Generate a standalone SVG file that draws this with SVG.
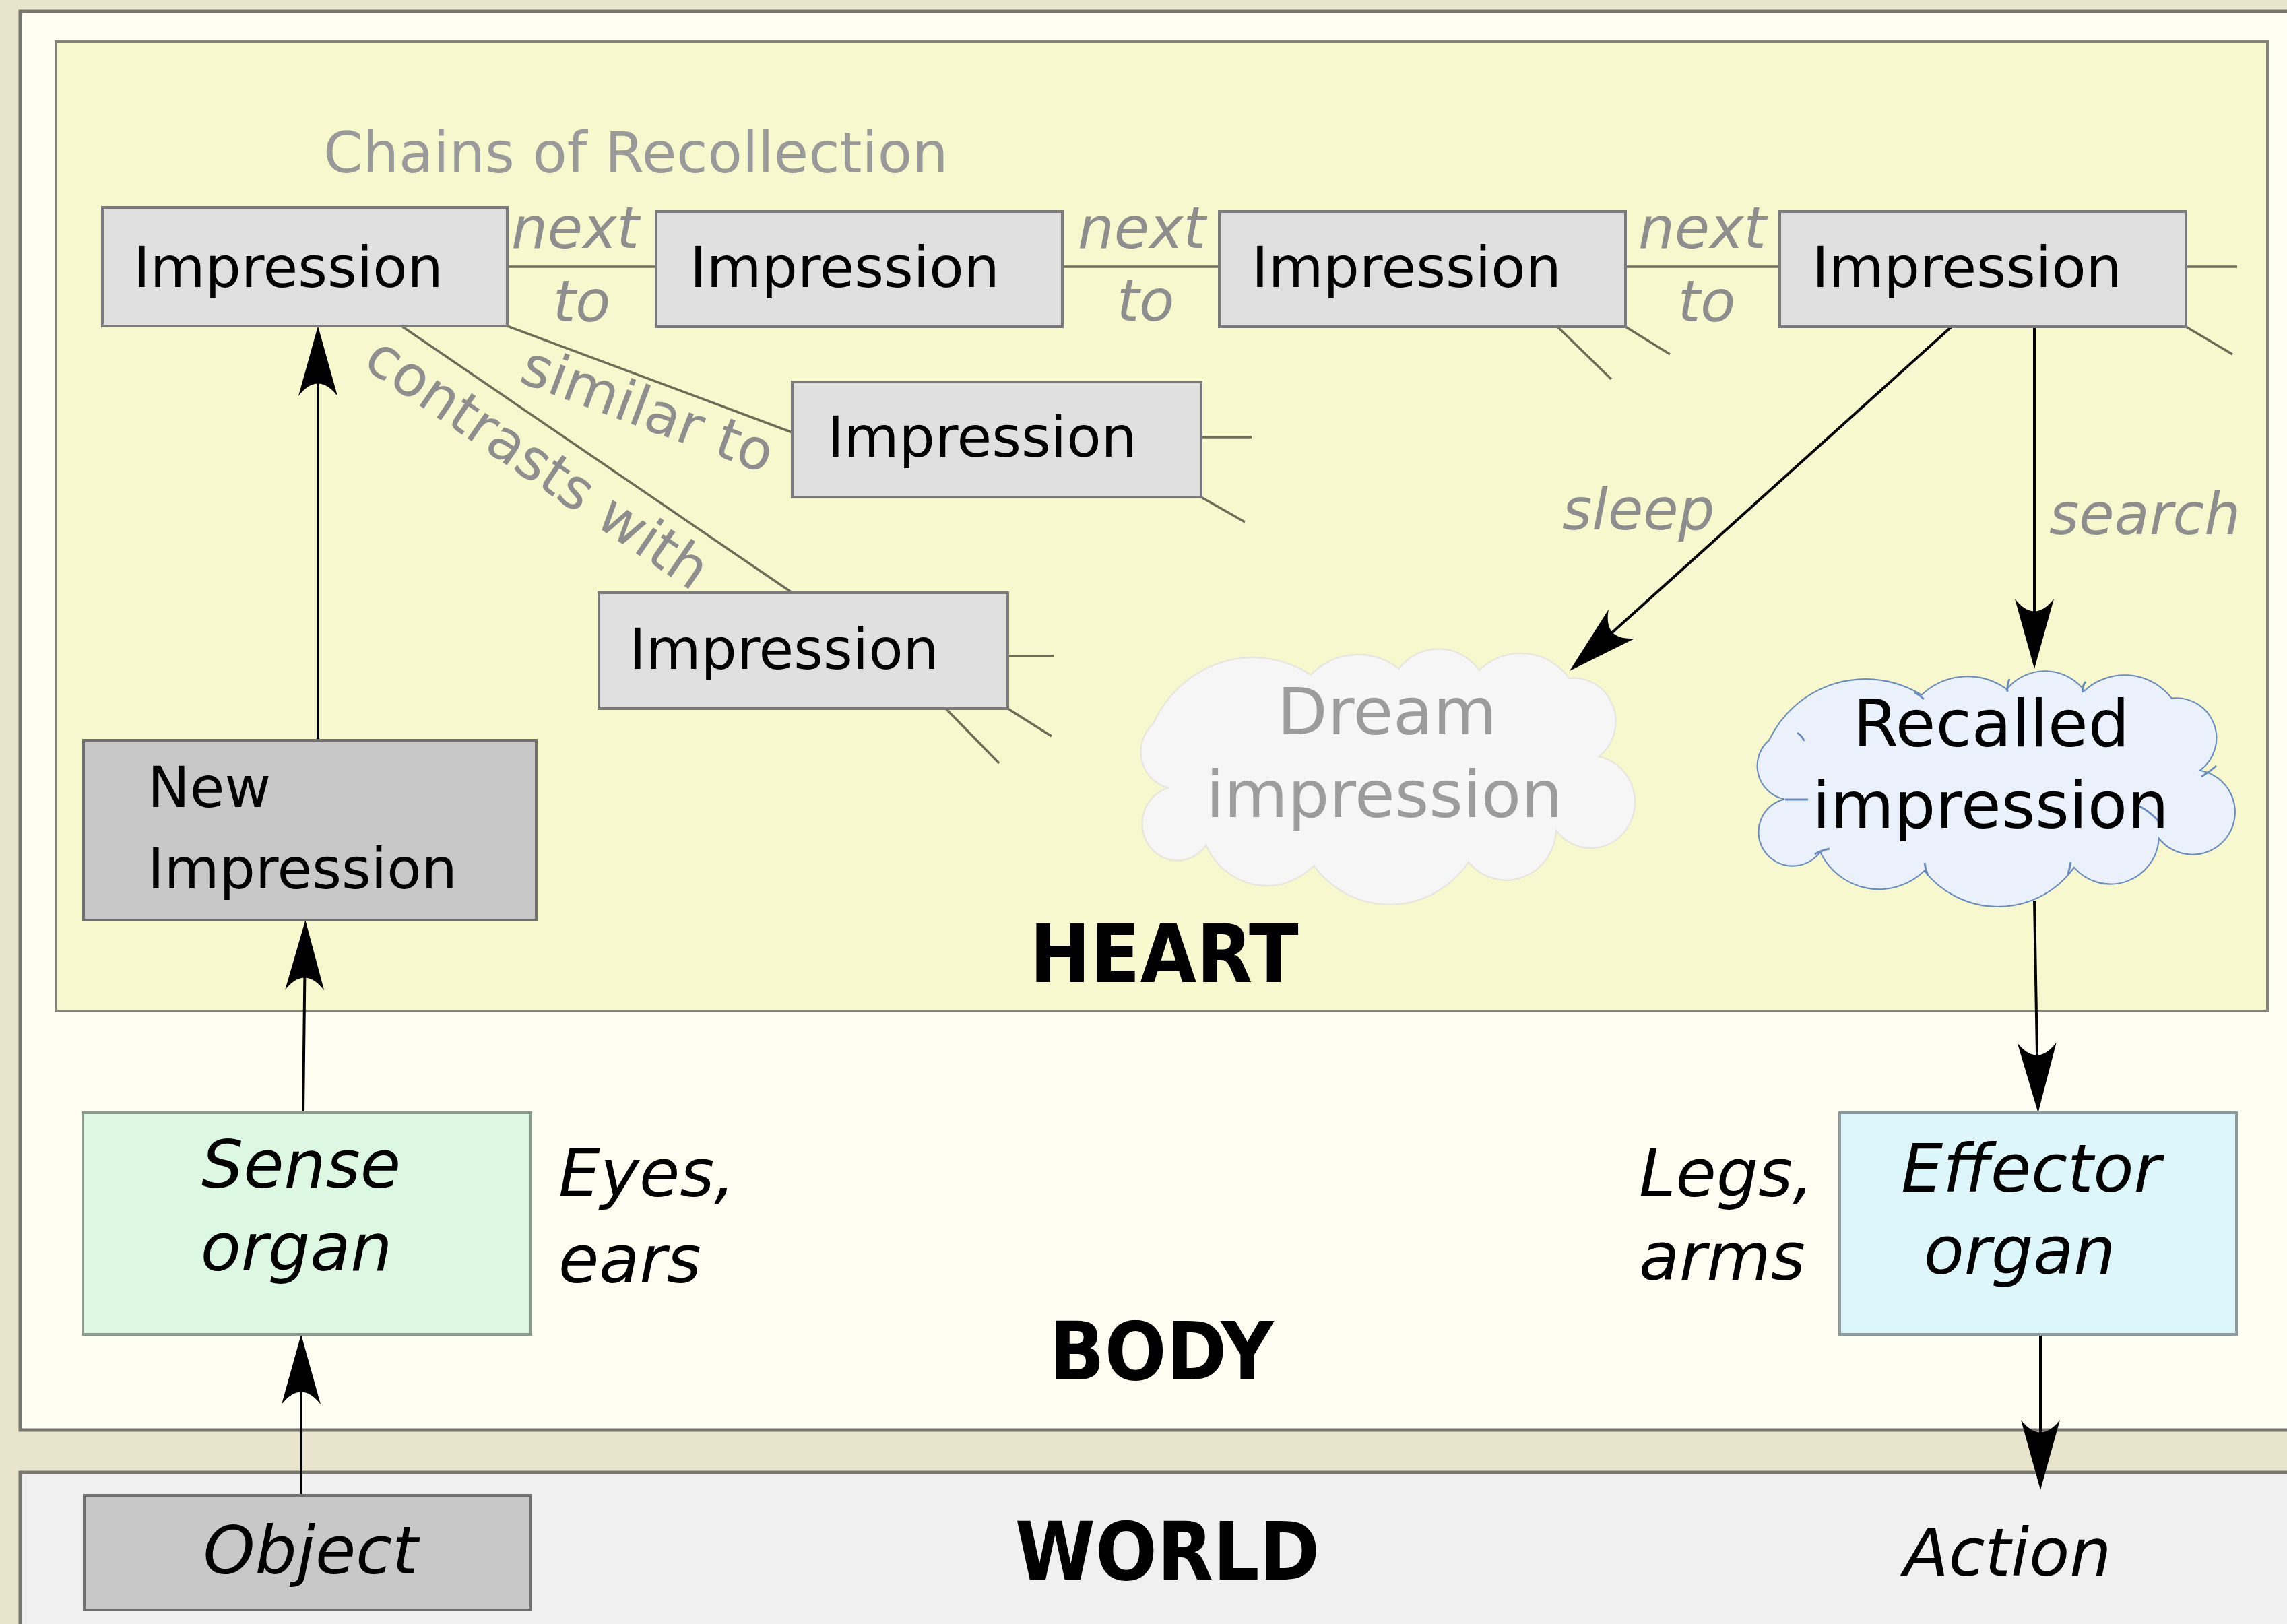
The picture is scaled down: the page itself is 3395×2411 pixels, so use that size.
<svg xmlns="http://www.w3.org/2000/svg" width="3395" height="2411" viewBox="0 0 3395 2411">
<style>
text{font-family:"DejaVu Sans","Liberation Sans",sans-serif;}
.panel{stroke:#777770;stroke-width:5;}
.box{fill:#e0e0e0;stroke:#7a7a7a;stroke-width:4;}
.dark{fill:#c8c8c8;stroke:#707070;stroke-width:4;}
.t{font-size:84px;fill:#000;}
.it{font-size:98px;font-style:italic;fill:#000;}
.lab{font-size:85px;font-style:italic;fill:#8e8e8e;}
.rel{font-size:84px;fill:#8e8e8e;}
.big{font-family:"DejaVu Sans Condensed","DejaVu Sans",sans-serif;font-stretch:condensed;font-weight:bold;font-size:120px;fill:#000;text-anchor:middle;}
.mid{text-anchor:middle;}
.assoc{stroke:#6e6e58;stroke-width:3.5;fill:none;}
.arrow{stroke:#000;stroke-width:4;fill:none;marker-end:url(#ah);}
.tail{stroke:#6a8cc0;stroke-width:3;fill:none;}
</style>
<defs>
<marker id="ah" markerUnits="userSpaceOnUse" orient="auto" markerWidth="10" markerHeight="10" refX="0" refY="0" overflow="visible">
<path d="M30,0 L-74,-29 Q-37,0 -74,29 Z" fill="#000"/>
</marker>
<path id="cloud" d="M23,147 A225,225 0 0 1 345,51 A140,140 0 0 1 525,39 A104,104 0 0 1 689,42 A125,125 0 0 1 873,58 A85,85 0 0 1 933,211 A90,90 0 1 1 846,355 A102,102 0 0 1 667,417 A197,197 0 0 1 351,424 A137,137 0 0 1 131,384 A72,72 0 1 1 55,272 A72,72 0 0 1 23,147 Z"/>
</defs>
<rect x="0" y="0" width="3395" height="2411" fill="#e9e4cc"/>
<g id="body-panel">
<rect class="panel" x="30" y="17" width="3420" height="2106" fill="#fdfdf1"/>
<text class="big" x="1724" y="2048">BODY</text>
</g>
<g id="world-panel">
<rect class="panel" x="30" y="2186" width="3420" height="300" fill="#f0f0f0"/>
<text class="big" x="1733" y="2345">WORLD</text>
</g>
<g id="heart-panel">
<rect x="83" y="62" width="3283" height="1439" fill="#f8f8cf" stroke="#85857a" stroke-width="4"/>
<text class="big" x="1728" y="1458">HEART</text>
<text x="480" y="256" font-size="84" fill="#9a9a9a">Chains of Recollection</text>
</g>
<g id="connectors">
<line class="assoc" x1="753" y1="396" x2="974" y2="396"/>
<line class="assoc" x1="1577" y1="396" x2="1810" y2="396"/>
<line class="assoc" x1="2413" y1="396" x2="2642" y2="396"/>
<line class="assoc" x1="3245" y1="396" x2="3321" y2="396"/>
<line class="assoc" x1="753" y1="484" x2="1176" y2="642"/>
<line class="assoc" x1="596" y1="484" x2="1176" y2="880"/>
<line class="assoc" x1="2312" y1="485" x2="2392" y2="563"/>
<line class="assoc" x1="2413" y1="485" x2="2479" y2="526"/>
<line class="assoc" x1="3245" y1="485" x2="3314" y2="526"/>
<line class="assoc" x1="1783" y1="649" x2="1858" y2="649"/>
<line class="assoc" x1="1783" y1="738" x2="1848" y2="775"/>
<line class="assoc" x1="1496" y1="974" x2="1564" y2="974"/>
<line class="assoc" x1="1404" y1="1052" x2="1483" y2="1133"/>
<line class="assoc" x1="1496" y1="1052" x2="1561" y2="1093"/>
<text class="lab" x="759" y="368">next</text>
<text class="lab" x="821" y="477">to</text>
<text class="lab" x="1600" y="368">next</text>
<text class="lab" x="1658" y="476">to</text>
<text class="lab" x="2432" y="368">next</text>
<text class="lab" x="2491" y="477">to</text>
<text class="rel" transform="translate(768,566) rotate(20.5)">similar to</text>
<text class="rel" transform="translate(536,543) rotate(34.3)">contrasts with</text>
<line class="arrow" x1="472" y1="1099" x2="472" y2="514"/>
<line class="arrow" x1="450" y1="1652" x2="453" y2="1396"/>
<line class="arrow" x1="447" y1="2220" x2="447" y2="2011"/>
<line class="arrow" x1="2897" y1="485" x2="2352.3" y2="975.9"/>
<line class="arrow" x1="3020" y1="485" x2="3020" y2="963"/>
<line class="arrow" x1="3020" y1="1337" x2="3025" y2="1622"/>
<line class="arrow" x1="3029" y1="1981" x2="3029" y2="2182"/>
<text class="lab" x="2319" y="786">sleep</text>
<text class="lab" x="3042" y="793">search</text>
</g>
<g id="imp1"><rect class="box" x="152" y="308" width="601" height="176"/><text class="t" x="198" y="426">Impression</text></g>
<g id="imp2"><rect class="box" x="974" y="314" width="603" height="171"/><text class="t" x="1024" y="426">Impression</text></g>
<g id="imp3"><rect class="box" x="1810" y="314" width="603" height="171"/><text class="t" x="1858" y="426">Impression</text></g>
<g id="imp4"><rect class="box" x="2642" y="314" width="603" height="171"/><text class="t" x="2690" y="426">Impression</text></g>
<g id="imp-similar"><rect class="box" x="1176" y="567" width="607" height="171"/><text class="t" x="1228" y="678">Impression</text></g>
<g id="imp-contrast"><rect class="box" x="889" y="880" width="607" height="172"/><text class="t" x="934" y="993">Impression</text></g>
<g id="new-impression"><rect class="dark" x="124" y="1099" width="672" height="267"/><text class="t" x="219" y="1198">New</text><text class="t" x="219" y="1319">Impression</text></g>
<g id="dream"><use href="#cloud" transform="translate(1695,963) scale(0.727,0.76)" fill="#f6f6f6" stroke="#e6e6de" stroke-width="3" vector-effect="non-scaling-stroke"/><text class="mid" x="2059" y="1090" font-size="97" fill="#9c9c9c">Dream</text><text class="mid" x="2055" y="1213" font-size="97" fill="#9c9c9c">impression</text></g>
<g id="recalled"><use href="#cloud" transform="translate(2610,996) scale(0.703,0.70)" fill="#eaf1fb" stroke="#6a8cc0" stroke-width="3" vector-effect="non-scaling-stroke"/>
<path class="tail" d="M2983,1008 Q2979,1018 2980,1027 M3096,1012 Q3090,1020 3092,1028 M2842,1028 Q2850,1032 2856,1038 M2668,1088 Q2675,1092 2678,1100 M2650,1187 L2684,1187 M3290,1137 Q3280,1146 3268,1153 M3176,1197 Q3192,1205 3205,1220 M2694,1268 Q2705,1262 2716,1260 M2857,1281 Q2858,1290 2862,1300 M3074,1280 Q3072,1290 3070,1298"/>
<text class="mid" x="2956" y="1108" font-size="97" fill="#000">Recalled</text><text class="mid" x="2955" y="1229" font-size="97" fill="#000">impression</text></g>
<g id="sense"><rect x="123" y="1652" width="665" height="329" fill="#dcf8e3" stroke="#8a9a8e" stroke-width="4"/><text class="it mid" x="447" y="1763">Sense</text><text class="it mid" x="440" y="1886">organ</text><text class="it" x="829" y="1776">Eyes,</text><text class="it" x="829" y="1904">ears</text></g>
<g id="effector"><rect x="2731" y="1652" width="589" height="329" fill="#dcf6fa" stroke="#8a9a9e" stroke-width="4"/><text class="it mid" x="3015" y="1769">Effector</text><text class="it mid" x="2998" y="1891">organ</text><text class="it" x="2433" y="1776">Legs,</text><text class="it" x="2433" y="1900">arms</text></g>
<g id="object"><rect class="dark" x="125" y="2220" width="663" height="170"/><text class="it mid" x="461" y="2336">Object</text></g>
<g id="action"><text class="it mid" x="2980" y="2339">Action</text></g>
</svg>
